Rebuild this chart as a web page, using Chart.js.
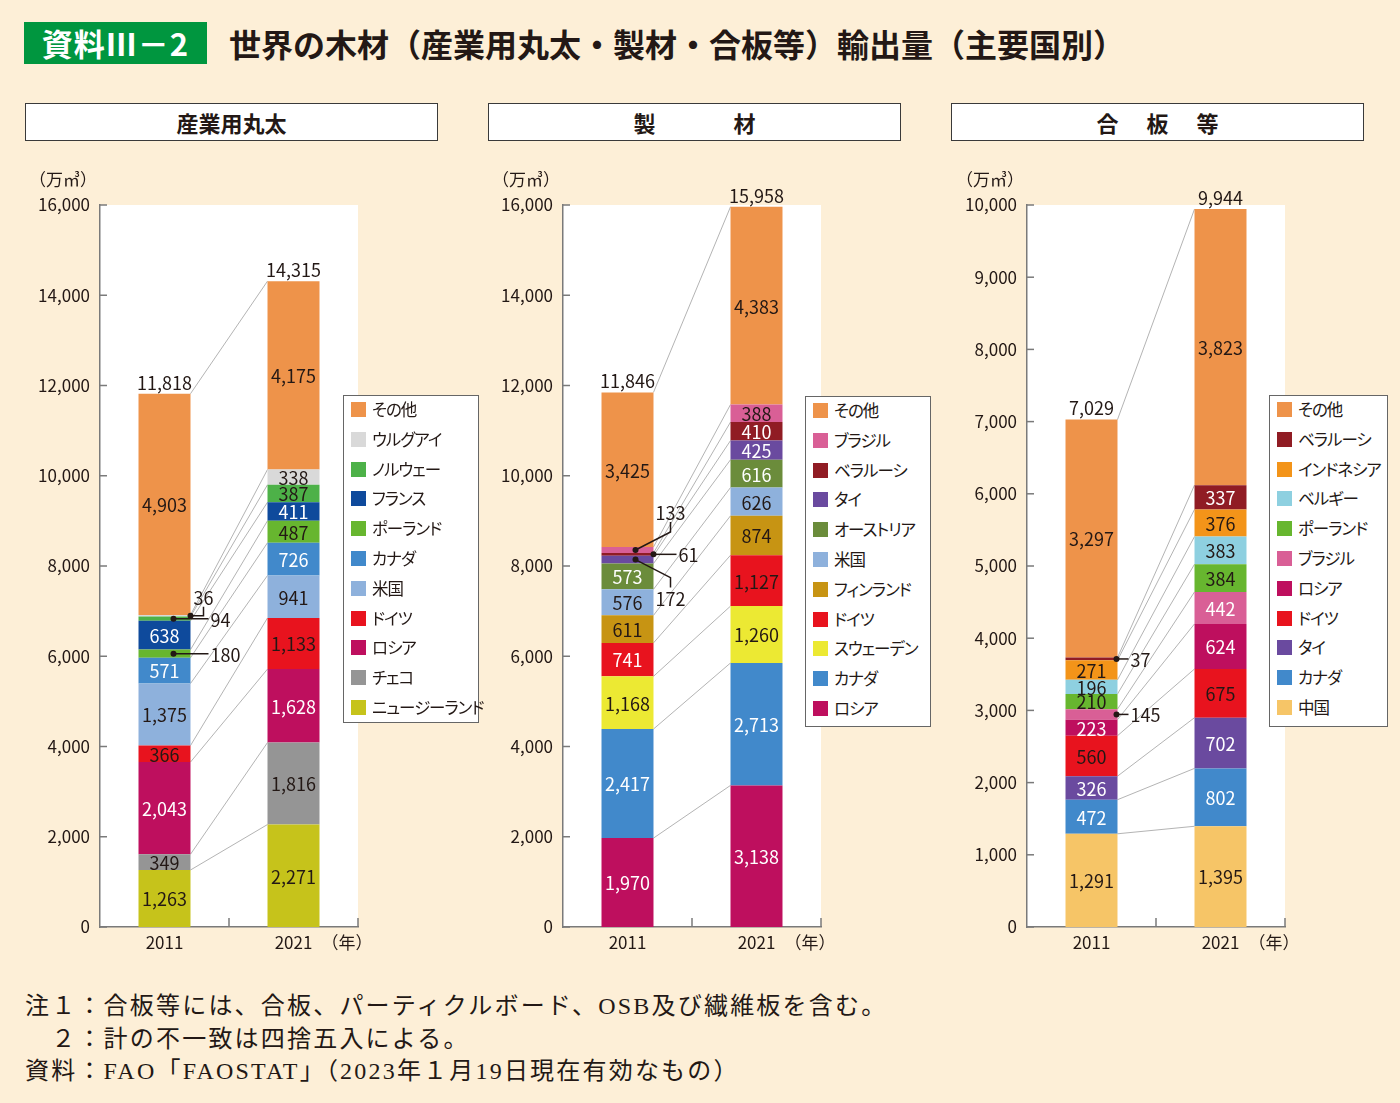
<!DOCTYPE html>
<html lang="ja">
<head>
<meta charset="utf-8">
<title>世界の木材輸出量</title>
<script src="https://cdn.jsdelivr.net/npm/chart.js@4.4.1/dist/chart.umd.min.js"></script>
<style>
  body { margin: 0; }
  #page { position: relative; width: 1400px; height: 1103px; background: #fdefd7; overflow: hidden;
          font-family: 'Noto Sans CJK JP', sans-serif; color: #231815; }
  .abs { position: absolute; }
  #tag { left: 24px; top: 22px; width: 183px; height: 42px; background: #00963f; color: #fff;
         font-size: 31px; font-weight: bold; line-height: 42px; text-align: center; letter-spacing: 1px; }
  #title { left: 229px; top: 22px; font-size: 32px; font-weight: bold; line-height: 42px; white-space: nowrap; }
  .head { top: 103px; height: 36px; width: 411px; background: #fff; border: 1.5px solid #3a3a3a;
          font-size: 22px; font-weight: bold; line-height: 36px; text-align: center; }
  canvas { position: absolute; top: 150px; }
  .legend { background: #fff; border: 1.5px solid #666; z-index: 2; }
  .legend div { position: absolute; font-size: 16.5px; line-height: 20px; white-space: nowrap;
                font-feature-settings: 'palt'; letter-spacing: -1px; }
  .legend span { position: absolute; width: 15px; height: 15px; }
  .note { left: 25px; font-size: 24px; letter-spacing: 2.2px; white-space: pre;
          font-family: 'Liberation Serif', 'Noto Sans CJK JP', serif; }
</style>
</head>
<body>
<div id="page">
  <div id="tag" class="abs">資料Ⅲ－2</div>
  <div id="title" class="abs">世界の木材（産業用丸太・製材・合板等）輸出量（主要国別）</div>
  <div class="abs head" style="left:25px">産業用丸太</div>
  <div class="abs head" style="left:488px">製<span style="display:inline-block;width:78px"></span>材</div>
  <div class="abs head" style="left:951px">合<span style="display:inline-block;width:28px"></span>板<span style="display:inline-block;width:28px"></span>等</div>

  <canvas id="c1" width="480" height="810" style="left:0px"></canvas>
  <canvas id="c2" width="480" height="810" style="left:463px"></canvas>
  <canvas id="c3" width="480" height="810" style="left:927px"></canvas>

  <div id="lg1" class="abs legend" style="left:343px;top:395px;width:134px;height:326px"></div>
  <div id="lg2" class="abs legend" style="left:805px;top:396px;width:124px;height:329px"></div>
  <div id="lg3" class="abs legend" style="left:1269px;top:395px;width:117px;height:330px"></div>

  <div class="abs note" style="top:986px">注１：合板等には、合板、パーティクルボード、OSB及び繊維板を含む。</div>
  <div class="abs note" style="top:1019px">　２：計の不一致は四捨五入による。</div>
  <div class="abs note" style="top:1051px">資料：FAO「FAOSTAT」（2023年１月19日現在有効なもの）</div>
</div>

<script>
// ---- data (万m3) ----
const years = ['2011', '2021'];

// 産業用丸太 (stack order bottom -> top)
const logNames = ['ニュージーランド', 'チェコ', 'ロシア', 'ドイツ', '米国', 'カナダ', 'ポーランド', 'フランス', 'ノルウェー', 'ウルグアイ', 'その他'];
const log2011 = [1263, 349, 2043, 366, 1375, 571, 180, 638, 94, 36, 4903];
const log2021 = [2271, 1816, 1628, 1133, 941, 726, 487, 411, 387, 338, 4175];
const logTotals = [11818, 14315];

// 製材
const lumberNames = ['ロシア', 'カナダ', 'スウェーデン', 'ドイツ', 'フィンランド', '米国', 'オーストリア', 'タイ', 'ベラルーシ', 'ブラジル', 'その他'];
const lumber2011 = [1970, 2417, 1168, 741, 611, 576, 573, 172, 61, 133, 3425];
const lumber2021 = [3138, 2713, 1260, 1127, 874, 626, 616, 425, 410, 388, 4383];
const lumberTotals = [11846, 15958];

// 合板等
const plyNames = ['中国', 'カナダ', 'タイ', 'ドイツ', 'ロシア', 'ブラジル', 'ポーランド', 'ベルギー', 'インドネシア', 'ベラルーシ', 'その他'];
const ply2011 = [1291, 472, 326, 560, 223, 145, 210, 196, 271, 37, 3297];
const ply2021 = [1395, 802, 702, 675, 624, 442, 384, 383, 376, 337, 3823];
const plyTotals = [7029, 9944];

// ---- styles ----
const colors = {
  'その他': '#ee934a', 'ウルグアイ': '#d9d9d9', 'ノルウェー': '#4db148', 'フランス': '#0e4a9c',
  'ポーランド': '#67b62f', 'カナダ': '#4189cb', '米国': '#8eb1dc', 'ドイツ': '#e8131e',
  'ロシア': '#be0f5e', 'チェコ': '#959595', 'ニュージーランド': '#c6c31b', 'ブラジル': '#d95f96',
  'ベラルーシ': '#901c24', 'タイ': '#6a4a9f', 'オーストリア': '#6b8c3b', 'フィンランド': '#c79413',
  'スウェーデン': '#ece933', 'インドネシア': '#f39419', 'ベルギー': '#8ed0e0', '中国': '#f6c567'
};
const INK = '#231815';
const FONT = "'Noto Sans CJK JP', sans-serif";
const fnt = s => s + 'px ' + FONT;
Chart.defaults.font.family = FONT;
Chart.defaults.color = INK;

// callout leader lines: dot offset from bar centre, path offsets, text offset
const panels = {
  c1: {
    names: logNames, data: [log2011, log2021], totals: logTotals, max: 16000, step: 2000,
    white: ['ロシア', 'カナダ', 'フランス'],
    callouts: [
      { name: 'ウルグアイ', bar: 0, dot: 26, path: [[39, 0], [39, -9]], tx: 39, ty: -19, align: 'center' },
      { name: 'ノルウェー', bar: 0, dot: 9, path: [[44, 0]], tx: 46, ty: 0, align: 'left' },
      { name: 'ポーランド', bar: 0, dot: 9, path: [[44, 0]], tx: 46, ty: 0, align: 'left' }
    ],
    legend: 'lg1'
  },
  c2: {
    names: lumberNames, data: [lumber2011, lumber2021], totals: lumberTotals, max: 16000, step: 2000,
    white: ['ロシア', 'カナダ', 'オーストリア', 'タイ', 'ベラルーシ', 'ドイツ:0'],
    callouts: [
      { name: 'ブラジル', bar: 0, dot: 8, path: [[43, -18], [43, -28]], tx: 43, ty: -38, align: 'center' },
      { name: 'ベラルーシ', bar: 0, dot: 26, path: [[49, 0]], tx: 51, ty: 0, align: 'left' },
      { name: 'タイ', bar: 0, dot: 8, path: [[43, 18], [43, 28]], tx: 43, ty: 39, align: 'center' }
    ],
    legend: 'lg2'
  },
  c3: {
    names: plyNames, data: [ply2011, ply2021], totals: plyTotals, max: 10000, step: 1000,
    white: ['ロシア', 'カナダ', 'タイ', 'ベラルーシ', 'ブラジル'],
    callouts: [
      { name: 'ベラルーシ', bar: 0, dot: 25, path: [[37, 0]], tx: 39, ty: 0, align: 'left' },
      { name: 'ブラジル', bar: 0, dot: 25, path: [[37, 0]], tx: 39, ty: 0, align: 'left' }
    ],
    legend: 'lg3'
  }
};

const fmt = v => v.toLocaleString('en-US');

const overlay = {
  id: 'overlay',
  beforeDraw(chart) {
    const a = chart.chartArea, ctx = chart.ctx;
    ctx.save();
    ctx.fillStyle = '#fff';
    ctx.fillRect(a.left, a.top, a.right - a.left, a.bottom - a.top);
    ctx.restore();
  },
  beforeDatasetsDraw(chart) {
    // thin grey lines joining the segment tops of the two bars
    const ctx = chart.ctx;
    ctx.save();
    ctx.strokeStyle = '#b4b4b4';
    ctx.lineWidth = 1;
    chart.data.datasets.forEach((d, i) => {
      const [b0, b1] = chart.getDatasetMeta(i).data;
      ctx.beginPath();
      ctx.moveTo(b0.x + b0.width / 2, b0.y);
      ctx.lineTo(b1.x - b1.width / 2, b1.y);
      ctx.stroke();
    });
    ctx.restore();
  },
  afterDatasetsDraw(chart) {
    const p = panels[chart.canvas.id], ctx = chart.ctx;
    ctx.save();
    ctx.font = fnt(18);
    ctx.textAlign = 'center';
    ctx.textBaseline = 'middle';
    chart.data.datasets.forEach((d, i) => {
      const name = p.names[i];
      chart.getDatasetMeta(i).data.forEach((bar, j) => {
        if (p.callouts.some(c => c.name === name && c.bar === j)) return;
        const white = p.white.includes(name) || p.white.includes(name + ':' + j);
        ctx.fillStyle = white ? '#fff' : INK;
        ctx.fillText(fmt(d.data[j]), bar.x, (bar.y + bar.base) / 2 + 1);
      });
    });
    // totals above the bars
    const top = chart.getDatasetMeta(chart.data.datasets.length - 1).data;
    ctx.fillStyle = INK;
    top.forEach((bar, j) => ctx.fillText(fmt(p.totals[j]), bar.x, bar.y - 11));
    // callouts
    ctx.strokeStyle = INK;
    ctx.lineWidth = 1.5;
    p.callouts.forEach(c => {
      const i = p.names.indexOf(c.name);
      const bar = chart.getDatasetMeta(i).data[c.bar];
      const y0 = (bar.y + bar.base) / 2, x0 = bar.x + c.dot;
      ctx.beginPath();
      ctx.moveTo(x0, y0);
      c.path.forEach(([dx, dy]) => ctx.lineTo(bar.x + dx, y0 + dy));
      ctx.stroke();
      ctx.beginPath();
      ctx.arc(x0, y0, 3, 0, Math.PI * 2);
      ctx.fillStyle = INK;
      ctx.fill();
      ctx.textAlign = c.align;
      ctx.fillText(fmt(chart.data.datasets[i].data[c.bar]), bar.x + c.tx, y0 + c.ty + 1);
    });
    ctx.restore();
  },
  afterDraw(chart) {
    const a = chart.chartArea, ctx = chart.ctx;
    const ys = chart.scales.y, xs = chart.scales.x;
    ctx.save();
    ctx.strokeStyle = '#7a7a7a';
    ctx.lineWidth = 1.5;
    ys.ticks.forEach(t => {
      const y = ys.getPixelForValue(t.value);
      ctx.beginPath(); ctx.moveTo(a.left, y); ctx.lineTo(a.left + 7, y); ctx.stroke();
    });
    const mid = (xs.getPixelForValue(0) + xs.getPixelForValue(1)) / 2;
    [mid, a.right].forEach(x => {
      ctx.beginPath(); ctx.moveTo(x, a.bottom); ctx.lineTo(x, a.bottom - 9); ctx.stroke();
    });
    ctx.fillStyle = INK;
    ctx.font = fnt(17);
    ctx.textAlign = 'center';
    ctx.textBaseline = 'middle';
    ctx.fillText('（万㎥）', a.left - 37, a.top - 25);
    ctx.fillText('（年）', a.right - 11, a.bottom + 16);
    ctx.restore();
  }
};

function build(id) {
  const p = panels[id];
  new Chart(document.getElementById(id), {
    type: 'bar',
    data: {
      labels: years,
      datasets: p.names.map((n, i) => ({
        label: n,
        data: [p.data[0][i], p.data[1][i]],
        backgroundColor: colors[n],
        borderWidth: 0,
        categoryPercentage: 1,
        barPercentage: 0.403
      }))
    },
    options: {
      responsive: false,
      animation: false,
      layout: { padding: { top: 55, right: 122, bottom: 0, left: 0 } },
      plugins: { legend: { display: false }, tooltip: { enabled: false } },
      scales: {
        x: {
          stacked: true,
          grid: { display: false, drawTicks: false },
          border: { color: '#7a7a7a', width: 1.5 },
          ticks: { font: { size: 17 }, color: INK, padding: 5 },
          afterFit: s => { s.height = 33; }
        },
        y: {
          stacked: true, min: 0, max: p.max,
          grid: { display: false, drawTicks: false },
          border: { color: '#7a7a7a', width: 1.5 },
          ticks: { stepSize: p.step, font: { size: 17 }, color: INK, padding: 10, callback: v => fmt(v) },
          afterFit: s => { s.width = 100; }
        }
      }
    },
    plugins: [overlay]
  });

  // legend, top of stack first
  const box = document.getElementById(p.legend);
  p.names.slice().reverse().forEach((n, k) => {
    const cy = 14 + k * 29.8;
    const sw = document.createElement('span');
    sw.style.left = '7px'; sw.style.top = (cy - 8) + 'px'; sw.style.background = colors[n];
    const tx = document.createElement('div');
    tx.style.left = '28px'; tx.style.top = (cy - 11) + 'px'; tx.textContent = n;
    box.appendChild(sw); box.appendChild(tx);
  });
}

['c1', 'c2', 'c3'].forEach(build);
</script>
</body>
</html>
